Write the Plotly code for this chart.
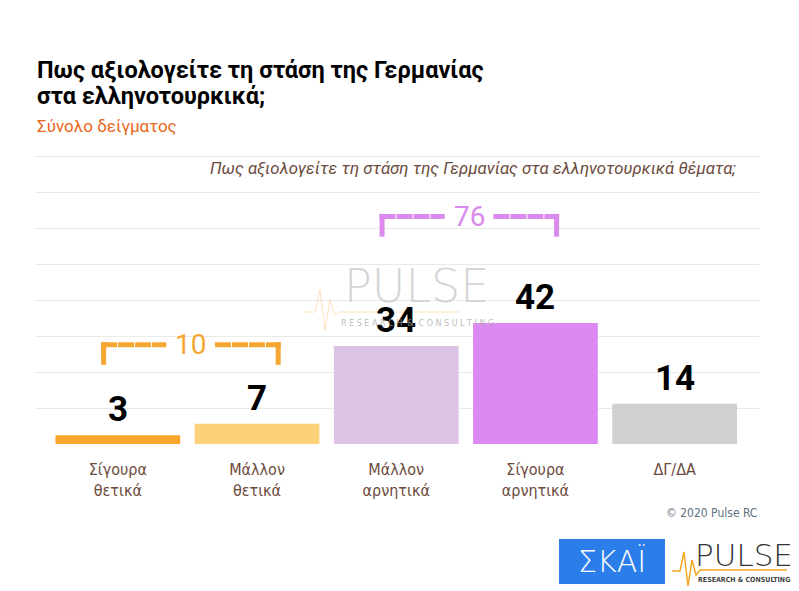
import plotly.graph_objects as go

# ---- data ----
categories = ["Σίγουρα<br>θετικά", "Μάλλον<br>θετικά", "Μάλλον<br>αρνητικά", "Σίγουρα<br>αρνητικά", "ΔΓ/ΔΑ"]
values = [3, 7, 34, 42, 14]
bar_colors = ["#f8a62e", "#fdd07a", "#dcc3e5", "#dd88f3", "#d0d0d0"]
group_totals = [10, 76]
group_starts = [0, 2]
group_colors = ["#f6a633", "#d98aec"]
group_levels = [34.5, 79]

title_l1 = "Πως αξιολογείτε τη στάση της Γερμανίας"
title_l2 = "στα ελληνοτουρκικά;"
subtitle = "Σύνολο δείγματος"
inner_title = "Πως αξιολογείτε τη στάση της Γερμανίας στα ελληνοτουρκικά θέματα;"
copyright_txt = "© 2020 Pulse RC"

W, H = 799, 591
L, R, T, B = 35, 759, 152, 444
YMAX = 101.4

def px(x):
    return (x - L) / (R - L)

def py(y):
    return (B - y) / (B - T)

xs = list(range(len(values)))
NARROW = "Liberation Sans Narrow, DejaVu Sans Condensed, Roboto, sans-serif"

fig = go.Figure()
fig.add_trace(go.Bar(
    x=xs, y=values, marker=dict(color=bar_colors, line=dict(width=0)),
    hoverinfo="skip", showlegend=False,
))

annotations = []
shapes = []

# value labels
for i, v in enumerate(values):
    annotations.append(dict(
        x=i, y=v, xref="x", yref="y", text=str(v), showarrow=False,
        yanchor="bottom", yshift=3,
        font=dict(family="Roboto", size=35, color="#000000", weight="bold"),
    ))

# brackets
for s, tot, col, lev in zip(group_starts, group_totals, group_colors, group_levels):
    left = s - 0.12
    right = s + 1.17
    ctr = s + 0.523
    gap = 0.175
    leg = 7.0
    for (a, b) in [(left, ctr - gap), (ctr + gap, right)]:
        shapes.append(dict(type="line", xref="x", yref="y", x0=a, x1=b, y0=lev, y1=lev,
                           line=dict(color=col, width=5, dash="16px,1px")))
    for xx in [left + 0.018, right - 0.018]:
        shapes.append(dict(type="line", xref="x", yref="y", x0=xx, x1=xx, y0=lev + 0.9, y1=lev - leg,
                           line=dict(color=col, width=5)))
    annotations.append(dict(
        x=ctr, y=lev, xref="x", yref="y", text=str(tot), showarrow=False,
        yanchor="middle", font=dict(family="Roboto", size=28, color=col),
    ))

# titles
annotations += [
    dict(x=px(35), y=py(70), xref="paper", yref="paper", text=f"<b>{title_l1}</b>",
         showarrow=False, xanchor="left", yanchor="middle",
         font=dict(family="Roboto", size=23.5, color="#000000")),
    dict(x=px(35), y=py(96), xref="paper", yref="paper", text=f"<b>{title_l2}</b>",
         showarrow=False, xanchor="left", yanchor="middle",
         font=dict(family="Roboto", size=23.5, color="#000000")),
    dict(x=px(35), y=py(126), xref="paper", yref="paper", text=subtitle,
         showarrow=False, xanchor="left", yanchor="middle",
         font=dict(family="Roboto", size=17, color="#e8661c")),
    dict(x=px(738), y=py(168), xref="paper", yref="paper", text=f"<i>{inner_title}</i>",
         showarrow=False, xanchor="right", yanchor="middle",
         font=dict(family="Roboto", size=16.8, color="#6b4a3c")),
    dict(x=px(759), y=py(513), xref="paper", yref="paper", text=copyright_txt,
         showarrow=False, xanchor="right", yanchor="middle",
         font=dict(family=NARROW, size=12, color="#5f7081")),
]

# watermark
annotations += [
    dict(x=px(416), y=py(286), xref="paper", yref="paper", text="PULSE", showarrow=False,
         xanchor="center", yanchor="middle",
         font=dict(family="DejaVu Sans, sans-serif", size=46, color="rgba(200,200,200,0.75)", weight=200)),
    dict(x=px(417), y=py(323), xref="paper", yref="paper",
         text="R E S E A R C H  &  C O N S U L T I N G", showarrow=False,
         xanchor="center", yanchor="middle",
         font=dict(family="DejaVu Sans", size=8, color="rgba(170,170,170,0.8)")),
]
wm_path = "M {} {} L {} {} L {} {} L {} {} L {} {} L {} {} L {} {} L {} {}".format(
    px(305), py(312), px(315), py(312), px(320), py(290), px(325), py(330),
    px(330), py(300), px(335), py(315), px(340), py(312), px(460), py(312))
shapes.append(dict(type="path", xref="paper", yref="paper", path=wm_path,
                   line=dict(color="rgba(247,170,60,0.35)", width=1)))

# bottom-right logos
shapes.append(dict(type="rect", xref="paper", yref="paper", x0=px(559), x1=px(665),
                   y0=py(584), y1=py(539), fillcolor="#2b7de9", line=dict(width=0), layer="above"))
annotations.append(dict(x=px(612), y=py(561), xref="paper", yref="paper", text="ΣΚΑΪ",
                        showarrow=False, xanchor="center", yanchor="middle",
                        font=dict(family="DejaVu Sans", size=30, color="#ffffff", weight=200)))
annotations.append(dict(x=px(744), y=py(555), xref="paper", yref="paper", text="PULSE",
                        showarrow=False, xanchor="center", yanchor="middle",
                        font=dict(family="DejaVu Sans", size=31, color="#333333", weight=200)))
annotations.append(dict(x=px(744), y=py(580), xref="paper", yref="paper",
                        text="<b>RESEARCH & CONSULTING</b>", showarrow=False,
                        xanchor="center", yanchor="middle",
                        font=dict(family="DejaVu Sans Condensed", size=7, color="#444444")))
logo_path = "M {} {} L {} {} L {} {} L {} {} L {} {} L {} {} L {} {} L {} {}".format(
    px(672), py(571), px(680), py(571), px(684), py(552), px(688), py(586),
    px(692), py(560), px(696), py(575), px(700), py(570), px(787), py(570))
shapes.append(dict(type="path", xref="paper", yref="paper", path=logo_path,
                   line=dict(color="#f5a623", width=1.5)))

fig.update_layout(
    width=W, height=H,
    margin=dict(l=L, r=W - R, t=T, b=H - B, pad=0),
    paper_bgcolor="#ffffff", plot_bgcolor="#ffffff",
    bargap=0.104,
    xaxis=dict(
        range=[-0.595, 4.606], tickmode="array", tickvals=xs, ticktext=categories,
        showgrid=False, zeroline=False, showline=False, ticks="",
        tickfont=dict(family=NARROW, size=16, color="#6b4a3c"),
        ticklabelstandoff=14, fixedrange=True,
    ),
    yaxis=dict(
        range=[0, YMAX], tickmode="linear", tick0=0, dtick=12.5,
        showticklabels=False, showgrid=True,
        gridcolor="#e9e9e9", gridwidth=1, zeroline=False, showline=False, ticks="",
        fixedrange=True,
    ),
    annotations=annotations,
    shapes=shapes,
    showlegend=False,
)

fig.write_html("out.html")
